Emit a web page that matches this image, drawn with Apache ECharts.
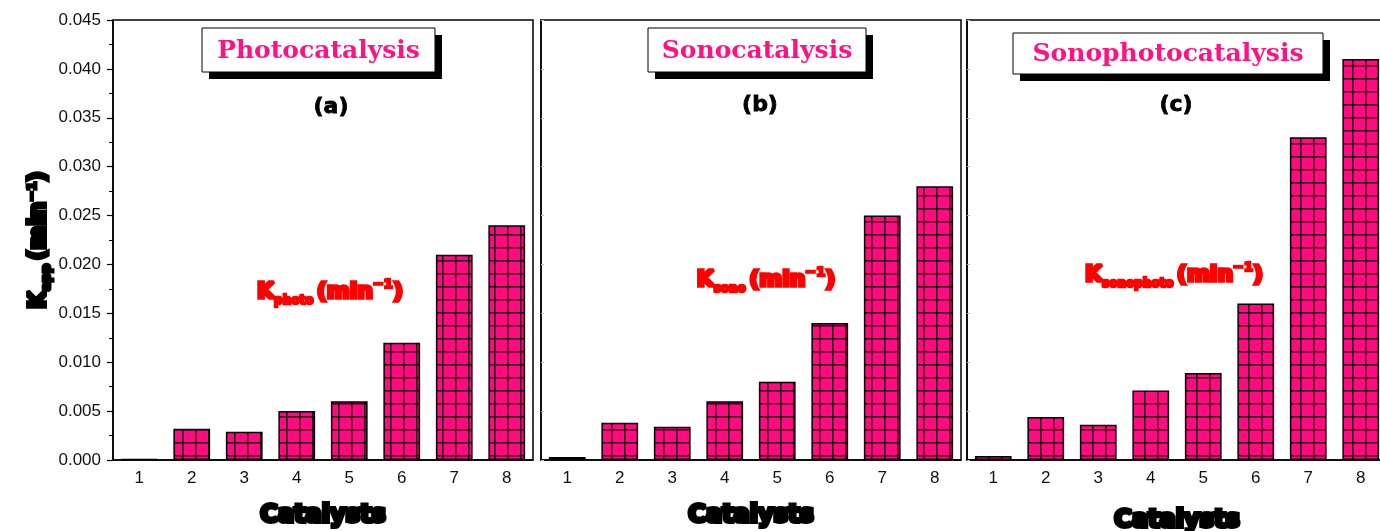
<!DOCTYPE html>
<html>
<head>
<meta charset="utf-8">
<script src="https://cdn.jsdelivr.net/npm/echarts@6/dist/echarts.min.js"></script>
<style>
  html, body { margin: 0; padding: 0; background: #fff; }
  #chart { width: 1380px; height: 531px; }
</style>
</head>
<body>
<div id="chart"></div>
<script>
// Catalyst numbers on the x axis
const categories = ['1', '2', '3', '4', '5', '6', '7', '8'];

// Apparent rate constants (min^-1) for each process
const photoRates = [0.0001, 0.0032, 0.0029, 0.0050, 0.0060, 0.0120, 0.0210, 0.0240];
const sonoRates = [0.0003, 0.0038, 0.0034, 0.0060, 0.0080, 0.0140, 0.0250, 0.0280];
const sonophotoRates = [0.0004, 0.0044, 0.0036, 0.0071, 0.0089, 0.0160, 0.0330, 0.0410];

// Panel headings and rate labels
const processTitles = ['Photocatalysis', 'Sonocatalysis', 'Sonophotocatalysis'];
const panelTags = ['(a)', '(b)', '(c)'];
const rateSubscripts = ['photo', 'sono', 'sonophoto'];

const yMin = 0, yMax = 0.045, yStep = 0.005;

// Pink fill with a dark square grid for the bars
const CELL = 13;
function gridPattern() {
  const c = document.createElement('canvas');
  c.width = CELL; c.height = CELL;
  const g = c.getContext('2d');
  g.fillStyle = '#FF0A80';
  g.fillRect(0, 0, CELL, CELL);
  g.fillStyle = '#2a0014';
  g.fillRect(0, 0, CELL, 1.5);
  g.fillRect(0, 0, 1.5, CELL);
  return c;
}
const pattern = gridPattern();

const panels = [
  { left: 113, values: photoRates, nameGap: 44 },
  { left: 541, values: sonoRates, nameGap: 44 },
  { left: 967, values: sonophotoRates, nameGap: 49 }
];
const panelWidth = 420;

const heavy = '"DejaVu Sans"';
const plain = '"Liberation Sans", Arial';

const grids = panels.map(p => ({
  left: p.left, top: 20, width: panelWidth, height: 440,
  show: true, borderColor: '#000', borderWidth: 1.5,
  backgroundColor: 'transparent',
  outerBoundsMode: 'none', containLabel: false
}));

const mainX = panels.map((p, i) => ({
  type: 'category', gridIndex: i, data: categories, boundaryGap: true,
  axisLine: { lineStyle: { color: '#000', width: 1.5 } },
  axisTick: { alignWithLabel: true, length: 7, lineStyle: { color: '#000', width: 1.5 } },
  axisLabel: { fontSize: 17, color: '#111', margin: 10, fontFamily: plain },
  name: 'Catalysts', nameLocation: 'middle', nameGap: p.nameGap,
  nameTextStyle: {
    fontSize: 24, fontWeight: 'bold', fontFamily: heavy, color: '#000',
    textBorderColor: '#000', textBorderWidth: 4, verticalAlign: 'top'
  }
}));

// Second axis per panel carries the short ticks between categories
const boundaryX = panels.map((p, i) => ({
  type: 'category', gridIndex: i, data: categories, boundaryGap: true,
  axisLine: { show: false },
  axisTick: { alignWithLabel: false, length: 4, lineStyle: { color: '#000', width: 1.2 } },
  axisLabel: { show: false }
}));

const blackRich = {
  k: { fontSize: 23, fontWeight: 'bold', fontFamily: heavy, color: '#000', textBorderColor: '#000', textBorderWidth: 4 },
  m: { fontSize: 23, fontWeight: 'bold', fontFamily: heavy, color: '#000', textBorderColor: '#000', textBorderWidth: 4 },
  sub: { fontSize: 13, fontWeight: 'bold', fontFamily: heavy, color: '#000', textBorderColor: '#000', textBorderWidth: 3, padding: [15, 0, 0, 0] },
  sup: { fontSize: 13, fontWeight: 'bold', fontFamily: heavy, color: '#000', textBorderColor: '#000', textBorderWidth: 3, padding: [0, 0, 13, 0] }
};

const yAxes = panels.map((p, i) => ({
  type: 'value', gridIndex: i, min: yMin, max: yMax, interval: yStep,
  splitLine: { show: false },
  axisLine: { show: true, lineStyle: { color: '#000', width: 1.5 } },
  axisTick: i === 0
    ? { show: true, length: 6, lineStyle: { color: '#000', width: 1.2 } }
    : { show: true, inside: true, length: 3, lineStyle: { color: '#bbb', width: 1 } },
  minorTick: i === 0
    ? { show: true, splitNumber: 2, length: 4, lineStyle: { color: '#000', width: 1 } }
    : { show: false },
  axisLabel: i === 0
    ? { show: true, fontSize: 17, color: '#111', margin: 12, fontFamily: plain,
        formatter: v => v.toFixed(3) }
    : { show: false },
  name: i === 0 ? '{k|K}{sub|app} {m|(min}{sup|−1}{m|)}' : '',
  nameLocation: 'middle', nameRotate: 90, nameGap: 60,
  nameTextStyle: { rich: blackRich }
}));

const series = panels.map((p, i) => ({
  type: 'bar', xAxisIndex: i, yAxisIndex: i, data: p.values,
  barWidth: '70%',
  itemStyle: { color: { image: pattern, repeat: 'repeat' }, borderColor: '#000', borderWidth: 1.5 },
  emphasis: { disabled: true }
}));

// Framed process titles with a drop shadow, tags and red rate labels
const boxes = [
  { x: 202, y: 28, w: 233, h: 44, tagX: 331, tagY: 107, kx: 330, ky: 292 },
  { x: 648, y: 28, w: 218, h: 44, tagX: 760, tagY: 105, kx: 766, ky: 280 },
  { x: 1013, y: 33, w: 310, h: 41, tagX: 1176, tagY: 105, kx: 1174, ky: 275 }
];

const redRich = {
  k: { fontSize: 22, fontWeight: 'bold', fontFamily: heavy, fill: '#FF0000', stroke: '#FF0000', lineWidth: 3.5 },
  m: { fontSize: 22, fontWeight: 'bold', fontFamily: heavy, fill: '#FF0000', stroke: '#FF0000', lineWidth: 3.5 },
  sub: { fontSize: 12, fontWeight: 'bold', fontFamily: heavy, fill: '#FF0000', stroke: '#FF0000', lineWidth: 2.5, padding: [17, 0, 0, 0] },
  sup: { fontSize: 13, fontWeight: 'bold', fontFamily: heavy, fill: '#FF0000', stroke: '#FF0000', lineWidth: 2.5, padding: [0, 0, 15, 0] }
};

const graphics = [];
boxes.forEach((b, i) => {
  graphics.push({ type: 'rect', z: 10, shape: { x: b.x + 7, y: b.y + 7, width: b.w, height: b.h }, style: { fill: '#000' } });
  graphics.push({ type: 'rect', z: 11, shape: { x: b.x, y: b.y, width: b.w, height: b.h }, style: { fill: '#fff', stroke: '#000', lineWidth: 1 } });
  graphics.push({
    type: 'text', z: 12, x: b.x + b.w / 2, y: b.y + b.h / 2 + 1,
    style: { text: processTitles[i], align: 'center', verticalAlign: 'middle', font: 'bold 25px "DejaVu Serif"', fill: '#FF1383' }
  });
  graphics.push({
    type: 'text', z: 12, x: b.tagX, y: b.tagY,
    style: { text: panelTags[i], align: 'center', verticalAlign: 'middle', font: 'bold 22px "DejaVu Sans"', fill: '#000', stroke: '#000', lineWidth: 0.8 }
  });
  graphics.push({
    type: 'text', z: 12, x: b.kx, y: b.ky,
    style: {
      text: '{k|K}{sub|' + rateSubscripts[i] + '} {m|(min}{sup|−1}{m|)}',
      align: 'center', verticalAlign: 'middle', rich: redRich
    }
  });
});

const chart = echarts.init(document.getElementById('chart'), null, { renderer: 'canvas' });
chart.setOption({
  animation: false,
  backgroundColor: '#fff',
  grid: grids,
  xAxis: mainX.concat(boundaryX),
  yAxis: yAxes,
  series: series,
  graphic: graphics
});
</script>
</body>
</html>
